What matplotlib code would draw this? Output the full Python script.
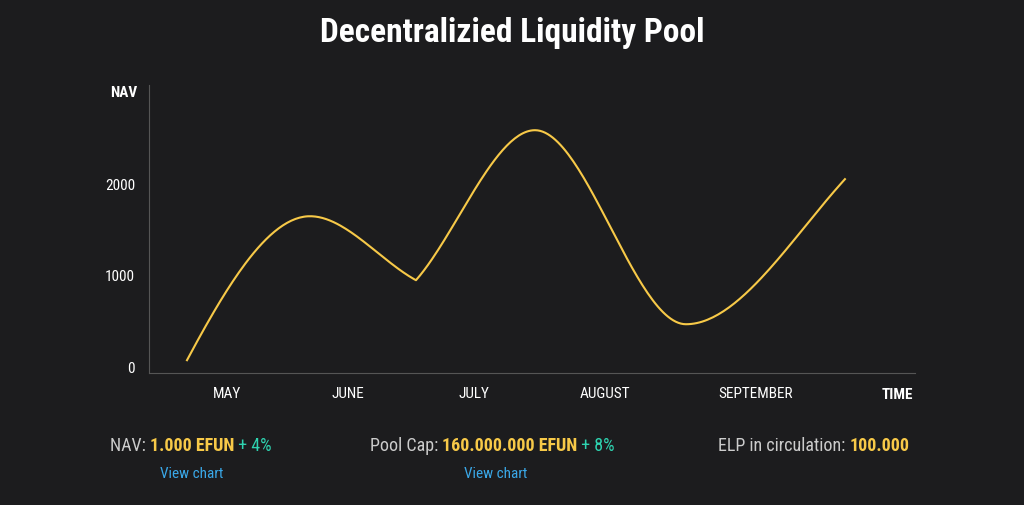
import numpy as np
import matplotlib.pyplot as plt
from matplotlib import font_manager

names = {f.name for f in font_manager.fontManager.ttflist}
narrow = [n for n in ('Roboto Condensed', 'Liberation Sans Narrow', 'DejaVu Sans Condensed') if n in names]
plt.rcParams['font.family'] = narrow + ['DejaVu Sans']
COND = bool(narrow)

# x positions on a 0..766 time scale, NAV values (turning points)
t = [38, 161, 267, 386, 537, 696]
nav = [77, 1650, 951, 2590, 470, 2055]
months = ['MAY', 'JUNE', 'JULY', 'AUGUST', 'SEPTEMBER']
month_pos = [78, 199, 325, 456, 607]

BG = '#1c1c1e'
YELLOW = '#f7c948'
GREEN = '#2ed3b0'
BLUE = '#3aa8e8'


def smooth(x, y, sharp=(2,), n=60):
    # Hermite curve with flat tangents at turning points; "sharp" points get a notch
    x = np.asarray(x, float)
    y = np.asarray(y, float)
    h = np.diff(x)
    d = np.diff(y) / h
    ml = np.zeros_like(y)
    mr = np.zeros_like(y)
    for i in sharp:
        ml[i] = 0.9 * d[i - 1]
        mr[i] = 0.9 * d[i]
    mr[0] = 1.6 * d[0]
    ml[-1] = 1.2 * d[-1]
    xs, ys = [], []
    s = np.linspace(0, 1, n)
    h00 = 2 * s**3 - 3 * s**2 + 1
    h10 = s**3 - 2 * s**2 + s
    h01 = -2 * s**3 + 3 * s**2
    h11 = s**3 - s**2
    for i in range(len(x) - 1):
        xs.extend(x[i] + s * h[i])
        ys.extend(h00 * y[i] + h10 * h[i] * mr[i] + h01 * y[i + 1] + h11 * h[i] * ml[i + 1])
    return xs, ys


fig = plt.figure(figsize=(10.24, 5.05), dpi=100, facecolor=BG)
ax = fig.add_axes([0.1455, 0.261, 0.748, 0.570], facecolor=BG)

sx, sy = smooth(t, nav)
ax.plot(sx, sy, color=YELLOW, linewidth=1.5)

ax.set_xlim(0, 766)
ax.set_ylim(-65, 3080)
ax.set_yticks([0, 1000, 2000])
ax.set_yticklabels(['0', '1000', '2000'])
ax.set_xticks(month_pos)
ax.set_xticklabels(months)
fs = 11 if COND else 10
ax.tick_params(colors='white', labelsize=fs, length=0, pad=10)
ax.tick_params(axis='y', pad=10)
for side in ('top', 'right'):
    ax.spines[side].set_visible(False)
for side in ('left', 'bottom'):
    ax.spines[side].set_color('#555555')

fig.text(0.108, 0.808, 'NAV', color='white', fontsize=fs, fontweight='bold')
fig.text(0.892, 0.21, 'TIME', color='white', fontsize=fs, fontweight='bold', ha='right')
fig.text(0.5, 0.935, 'Decentralizied Liquidity Pool', color='white', fontsize=24 if COND else 19,
         fontweight='bold', ha='center', va='center')

big = 13 if COND else 12


def line(x, y, parts):
    txt = None
    for s, c, w in parts:
        if txt is None:
            txt = fig.text(x, y, s, color=c, fontsize=big, fontweight=w, va='center')
        else:
            txt = ax.annotate(s, xycoords=txt, xy=(1, 0), va='bottom', color=c,
                              fontsize=big, fontweight=w, annotation_clip=False)


line(0.107, 0.117, [('NAV: ', '#cccccc', 'normal'), ('1.000 EFUN', YELLOW, 'bold'),
                    (' + 4%', GREEN, 'normal')])
line(0.361, 0.117, [('Pool Cap: ', '#cccccc', 'normal'), ('160.000.000 EFUN', YELLOW, 'bold'),
                    (' + 8%', GREEN, 'normal')])
line(0.701, 0.117, [('ELP in circulation: ', '#cccccc', 'normal'), ('100.000', YELLOW, 'bold')])
fig.text(0.187, 0.061, 'View chart', color=BLUE, fontsize=fs, ha='center', va='center')
fig.text(0.484, 0.061, 'View chart', color=BLUE, fontsize=fs, ha='center', va='center')

fig.savefig('out.png', dpi=100, facecolor=BG)
